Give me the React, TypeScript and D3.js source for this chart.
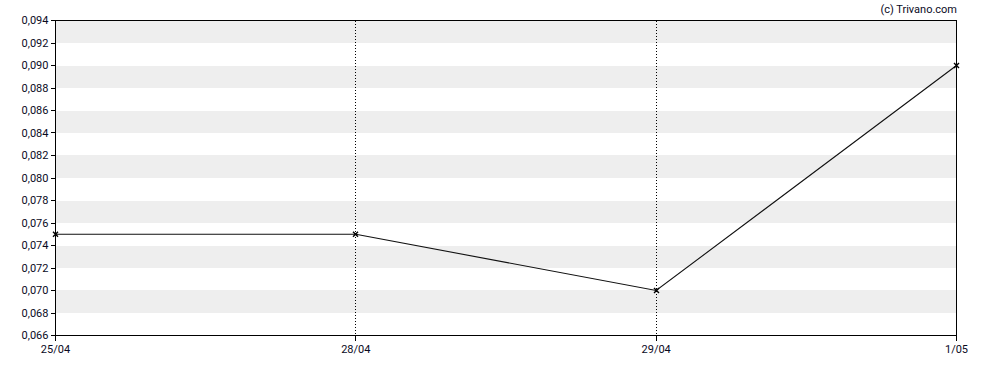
import React from "react";
import * as d3 from "d3";

const categories = ["25/04", "28/04", "29/04", "1/05"];
const values = [0.075, 0.075, 0.07, 0.09];
const yTicks = [0.066, 0.068, 0.07, 0.072, 0.074, 0.076, 0.078, 0.08, 0.082, 0.084, 0.086, 0.088, 0.09, 0.092, 0.094];
const yDomain = [0.066, 0.094];

export default function App() {
  const W = 988, H = 370;
  const m = { left: 55.5, right: 956.5, top: 20.5, bottom: 335.5 };
  const x = d3.scalePoint<string>().domain(categories).range([m.left, m.right]);
  const y = d3.scaleLinear().domain(yDomain).range([m.bottom, m.top]);
  const px = (v: number) => Math.floor(v) + 0.5;
  const line = d3.line<number>().x((_, i) => x(categories[i])!).y((d) => y(d));
  const fmt = (v: number) => v.toFixed(3).replace(".", ",");
  const font = "Roboto, 'Liberation Sans', Arial, sans-serif";
  const bands = yTicks.slice(0, -1).map((t, i) => ({ lo: t, hi: yTicks[i + 1], gray: i % 2 === 1 }));
  return (
    <svg width={W} height={H} style={{ position: "absolute", left: 0, top: 0 }} fontFamily={font}>
      <rect x={0} y={0} width={W} height={H} fill="#fff" />
      {bands.filter((b) => b.gray).map((b, i) => (
        <rect key={i} x={m.left} y={Math.round(y(b.hi))} width={m.right - m.left} height={Math.round(y(b.lo)) - Math.round(y(b.hi))} fill="#eeeeee" />
      ))}
      {categories.slice(1, -1).map((c) => (
        <line key={c} x1={px(x(c)!)} x2={px(x(c)!)} y1={m.top} y2={m.bottom} stroke="#000" strokeWidth={1} strokeDasharray="1,2" shapeRendering="crispEdges" />
      ))}
      <rect x={m.left} y={m.top} width={m.right - m.left} height={m.bottom - m.top} fill="none" stroke="#000" strokeWidth={1} shapeRendering="crispEdges" />
      {yTicks.map((t) => (
        <g key={t}>
          <line x1={m.left - 5} x2={m.left} y1={px(y(t))} y2={px(y(t))} stroke="#000" shapeRendering="crispEdges" />
          <text x={m.left - 7} y={y(t)} dy="0.35em" textAnchor="end" fontSize={11} fill="#0a0a1e">{fmt(t)}</text>
        </g>
      ))}
      {categories.map((c) => (
        <g key={c}>
          <line x1={px(x(c)!)} x2={px(x(c)!)} y1={m.bottom} y2={m.bottom + 5} stroke="#000" shapeRendering="crispEdges" />
          <text x={x(c)} y={m.bottom + 17} textAnchor="middle" fontSize={11} fill="#0a0a1e">{c}</text>
        </g>
      ))}
      <path d={line(values) ?? ""} fill="none" stroke="#111" strokeWidth={1.1} />
      {values.map((v, i) => {
        const cx = px(x(categories[i])!), cy = y(v);
        return (
          <path key={i} d={`M${cx - 2.5},${cy - 2.5}L${cx + 2.5},${cy + 2.5}M${cx - 2.5},${cy + 2.5}L${cx + 2.5},${cy - 2.5}`} stroke="#000" strokeWidth={1.4} />
        );
      })}
      <text x={957} y={13} textAnchor="end" fontSize={11} fill="#0a0a1e">(c) Trivano.com</text>
    </svg>
  );
}
